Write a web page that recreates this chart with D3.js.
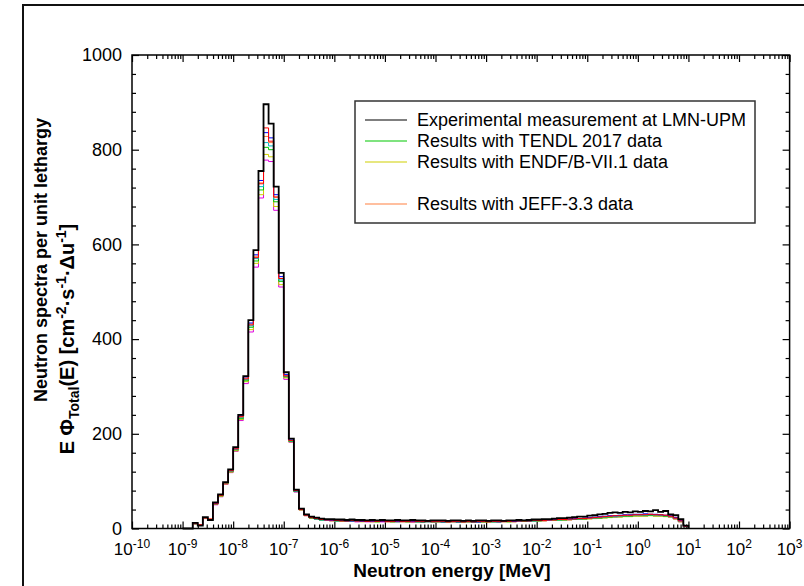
<!DOCTYPE html>
<html>
<head>
<meta charset="utf-8">
<script src="https://cdn.jsdelivr.net/npm/d3@7"></script>
<style>
  body { margin: 0; background: #fff; }
  svg { font-family: "Liberation Sans", Arial, sans-serif; }
  .axis path { display: none; }
  .axis line { stroke: #000; stroke-width: 1.2; }
</style>
</head>
<body>
<script>
// bin edges, as log10(E / MeV)
var binExp = [-9.0,-8.9,-8.8,-8.7,-8.6,-8.5,-8.4,-8.3,-8.2,-8.1,
  -8.0,-7.9,-7.8,-7.7,-7.6,-7.5,-7.4,-7.3,-7.2,-7.1,
  -7.0,-6.9,-6.8,-6.7,-6.6,-6.5,-6.4,-6.3,-6.2,-6.1,
  -6.0,-5.9,-5.8,-5.7,-5.6,-5.5,-5.4,-5.3,-5.2,-5.1,
  -5.0,-4.9,-4.8,-4.7,-4.6,-4.5,-4.4,-4.3,-4.2,-4.1,
  -4.0,-3.9,-3.8,-3.7,-3.6,-3.5,-3.4,-3.3,-3.2,-3.1,
  -3.0,-2.9,-2.8,-2.7,-2.6,-2.5,-2.4,-2.3,-2.2,-2.1,
  -2.0,-1.9,-1.8,-1.7,-1.6,-1.5,-1.4,-1.3,-1.2,-1.1,
  -1.0,-0.9,-0.8,-0.7,-0.6,-0.5,-0.4,-0.3,-0.2,-0.1,
  0.0,0.1,0.2,0.3,0.4,0.5,0.6,0.7,0.8,0.9,1.0];

var experiment = [0,0,12,6,24,18,55,72,98,125,
  172,240,322,440,588,755,896,855,722,540,330,190,82,
  42,30,25,23,21,20,20,19,
  19,18,19,18,18,17,18,17,18,17, 17,18,17,17,18,17,17,16,17,17,
  17,16,17,17,16,17,16,17,17,16, 17,17,16,17,17,18,17,18,19,
  19,20,20,21,22,22,23,24,25,25, 27,28,30,31,33,34,33,35,34,36,
  35,37,36,39,35,37,30,28,20,6];

var simRed = [0,0,10,8,22,20,52,70,96,122,
  168,236,316,430,572,728,846,818,700,528,322,186,80,
  40,28,23,21,19,18,18,17,
  16,16,17,16,16,15,16,15,16,15, 15,16,15,15,16,15,15,15,15,15,
  15,14,15,15,14,15,14,15,15,14, 15,15,15,15,16,16,16,16,17,
  17,17,18,18,19,19,20,20,21,21, 22,23,24,25,26,27,27,28,28,29,
  29,29,30,29,29,28,26,22,16,5];

var simBlue = [0,0,11,7,23,19,53,71,97,123,
  170,238,320,434,578,735,836,825,705,532,325,187,80,
  41,29,24,21,19,18,17,17,
  17,16,16,16,15,16,15,16,15,15, 16,15,15,16,15,15,14,15,15,15,
  14,15,15,14,15,15,14,14,15,15, 15,14,15,16,15,16,17,16,17,
  18,18,18,19,19,20,20,21,21,22, 23,24,25,26,27,27,28,29,29,30,
  30,31,30,30,29,28,27,23,17,5];

var simTendl = [0,0,10,7,22,19,52,69,95,120,
  166,232,312,425,565,715,805,800,690,522,320,184,78,
  40,28,22,20,18,17,17,16,
  16,15,16,15,15,15,15,14,15,15, 14,15,15,14,15,14,14,15,14,14,
  14,14,15,14,14,14,14,14,14,14, 14,14,15,14,15,15,15,16,16,
  16,17,17,17,18,18,19,19,20,20, 21,22,22,23,24,25,25,26,26,27,
  27,27,28,27,27,26,25,21,15,4];

var simEndf = [0,0,10,7,21,18,51,68,94,119,
  164,230,310,420,560,705,790,785,680,515,318,183,78,
  39,27,22,20,18,17,16,16,
  15,15,15,15,14,15,14,14,15,14, 14,14,14,14,14,14,13,14,14,14,
  13,14,14,13,14,14,13,14,13,14, 14,14,14,14,14,15,15,15,16,
  16,16,17,17,17,18,18,19,19,20, 20,21,22,22,23,24,24,25,25,26,
  26,26,27,26,26,25,24,20,14,4];

var simJeff = [0,0,11,8,23,20,53,71,97,122,
  169,236,318,432,575,730,828,815,700,528,323,186,80,
  41,29,23,21,19,18,17,17,
  16,16,16,15,16,15,16,15,15,16, 15,15,16,15,15,15,15,15,15,14,
  15,15,14,15,15,14,15,15,14,15, 15,15,15,15,16,16,16,17,17,
  17,18,18,18,19,19,20,21,21,22, 22,23,24,25,26,27,27,28,28,29,
  29,30,30,29,29,28,26,22,16,5];

var simCyan = [0,0,10,8,22,19,52,70,96,121,
  167,234,315,428,570,722,815,808,695,525,321,185,79,
  40,28,23,20,18,17,17,16,
  16,16,15,16,15,15,15,15,15,15, 15,14,15,15,15,14,15,14,15,14,
  14,15,14,14,15,14,14,14,14,15, 14,15,15,15,15,15,16,16,16,
  17,17,17,18,18,19,19,20,20,21, 21,22,23,24,25,25,26,27,27,28,
  28,28,29,28,28,27,25,21,15,4];

var simMagenta = [0,0,10,7,21,18,50,67,93,118,
  163,228,306,415,552,698,778,775,672,510,315,182,77,
  39,27,22,20,18,17,16,16,
  15,15,15,14,15,14,14,15,14,14, 14,14,14,14,13,14,14,14,13,14,
  14,13,14,14,13,14,14,13,14,14, 14,14,14,15,14,15,15,16,16,
  16,16,17,17,18,18,18,19,19,20, 21,21,22,23,24,24,25,26,26,27,
  27,27,28,27,27,26,24,20,14,4];

var simSeries = [
  {values: simMagenta, color: '#e000e0'},
  {values: simEndf, color: '#d0d000'},
  {values: simTendl, color: '#00c800'},
  {values: simCyan, color: '#00b8c8'},
  {values: simJeff, color: '#ff8040'},
  {values: simBlue, color: '#0000ff'},
  {values: simRed, color: '#ff0000'}
];

var legendItems = [
  {label: 'Experimental measurement at LMN-UPM', color: '#000'},
  {label: 'Results with TENDL 2017 data', color: '#00c800'},
  {label: 'Results with ENDF/B-VII.1 data', color: '#d0d000'},
  {label: '', color: 'none'},
  {label: 'Results with JEFF-3.3 data', color: '#ff8040'}
];

var xDecades = [-10,-9,-8,-7,-6,-5,-4,-3,-2,-1,0,1,2,3];
var yTicks = [0, 200, 400, 600, 800, 1000];

var W = 804, H = 586;
var box = {left: 132, right: 789.6, top: 55, bottom: 528.5};

var svg = d3.select('body').append('svg')
    .attr('width', W)
    .attr('height', H);

// outer frame of the figure
svg.append('rect')
    .attr('x', 23).attr('y', 5)
    .attr('width', 900).attr('height', 700)
    .style('fill', 'none')
    .style('stroke', '#111')
    .style('stroke-width', 2);

var x = d3.scaleLog()
    .domain([1e-10, 1e3])
    .range([box.left, box.right]);

var y = d3.scaleLinear()
    .domain([0, 1000])
    .range([box.bottom, box.top]);

var minorX = [];
xDecades.slice(0, -1).forEach(function(d) {
  [2,3,4,5,6,7,8,9].forEach(function(m) { minorX.push(m * Math.pow(10, d)); });
});
var majorX = xDecades.map(function(d) { return Math.pow(10, d); });
var minorY = d3.range(0, 1001, 40).filter(function(v) { return v % 200 !== 0; });

function addAxis(axis, tr) {
  svg.append('g').attr('class', 'axis')
      .attr('transform', tr)
      .call(axis.tickSizeOuter(0).tickFormat(''));
}

// ticks pointing inward on all four sides
addAxis(d3.axisBottom(x).tickValues(majorX).tickSizeInner(-7), 'translate(0,' + box.bottom + ')');
addAxis(d3.axisBottom(x).tickValues(minorX).tickSizeInner(-4), 'translate(0,' + box.bottom + ')');
addAxis(d3.axisTop(x).tickValues(majorX).tickSizeInner(-7), 'translate(0,' + box.top + ')');
addAxis(d3.axisTop(x).tickValues(minorX).tickSizeInner(-4), 'translate(0,' + box.top + ')');
addAxis(d3.axisLeft(y).tickValues(yTicks).tickSizeInner(-7), 'translate(' + box.left + ',0)');
addAxis(d3.axisLeft(y).tickValues(minorY).tickSizeInner(-4), 'translate(' + box.left + ',0)');
addAxis(d3.axisRight(y).tickValues(yTicks).tickSizeInner(-7), 'translate(' + box.right + ',0)');
addAxis(d3.axisRight(y).tickValues(minorY).tickSizeInner(-4), 'translate(' + box.right + ',0)');

// histogram steps
function stepPoints(vals) {
  var pts = vals.map(function(v, i) { return [Math.pow(10, binExp[i]), v]; });
  pts.push([Math.pow(10, binExp[binExp.length - 1]), 0]);
  pts.unshift([Math.pow(10, binExp[0]), 0]);
  return pts;
}

var line = d3.line()
    .x(function(d) { return x(d[0]); })
    .y(function(d) { return y(d[1]); })
    .curve(d3.curveStepAfter);

var plot = svg.append('g');

simSeries.forEach(function(s) {
  plot.append('path')
      .attr('d', line(stepPoints(s.values)))
      .style('fill', 'none')
      .style('stroke', s.color)
      .style('stroke-width', 1);
});

plot.append('path')
    .attr('d', line(stepPoints(experiment)))
    .style('fill', 'none')
    .style('stroke', '#000')
    .style('stroke-width', 1.8);

// frame of plot area
svg.append('rect')
    .attr('x', box.left).attr('y', box.top)
    .attr('width', box.right - box.left).attr('height', box.bottom - box.top)
    .style('fill', 'none')
    .style('stroke', '#000')
    .style('stroke-width', 1.5);

// tick labels
svg.append('g').selectAll('text')
    .data(yTicks)
    .enter().append('text')
    .attr('x', box.left - 10)
    .attr('y', function(d) { return y(d); })
    .attr('dy', '0.35em')
    .attr('text-anchor', 'end')
    .style('font-size', '18px')
    .text(function(d) { return d; });

var xl = svg.append('g').selectAll('text')
    .data(xDecades)
    .enter().append('text')
    .attr('x', function(d) { return x(Math.pow(10, d)); })
    .attr('y', 555)
    .attr('text-anchor', 'middle')
    .style('font-size', '17px');
xl.append('tspan').text('10');
xl.append('tspan')
    .attr('dy', -7)
    .style('font-size', '12px')
    .text(function(d) { return d; });

// axis titles
svg.append('text')
    .attr('x', 452).attr('y', 577)
    .attr('text-anchor', 'middle')
    .style('font-size', '19px')
    .style('font-weight', 'bold')
    .text('Neutron energy [MeV]');

svg.append('text')
    .attr('transform', 'translate(47,260) rotate(-90)')
    .attr('text-anchor', 'middle')
    .style('font-size', '18px')
    .style('font-weight', 'bold')
    .text('Neutron spectra per unit lethargy');

var yl2 = svg.append('text')
    .attr('transform', 'translate(74,339) rotate(-90)')
    .attr('text-anchor', 'middle')
    .style('font-size', '20px')
    .style('font-weight', 'bold');
yl2.append('tspan').text('E \u03A6');
yl2.append('tspan').attr('dy', 5).style('font-size', '14px').text('Total');
yl2.append('tspan').attr('dy', -5).text('(E) [cm');
yl2.append('tspan').attr('dy', -8).style('font-size', '14px').text('-2');
yl2.append('tspan').attr('dy', 8).text('\u00B7s');
yl2.append('tspan').attr('dy', -8).style('font-size', '14px').text('-1');
yl2.append('tspan').attr('dy', 8).text('\u00B7\u0394u');
yl2.append('tspan').attr('dy', -8).style('font-size', '14px').text('-1');
yl2.append('tspan').attr('dy', 8).text(']');

// legend
var lg = svg.append('g');
lg.append('rect')
    .attr('x', 355).attr('y', 101)
    .attr('width', 400).attr('height', 122)
    .style('fill', '#fff')
    .style('stroke', '#333')
    .style('stroke-width', 1.5);

var li = lg.selectAll('g.item')
    .data(legendItems)
    .enter().append('g')
    .attr('class', 'item')
    .attr('transform', function(d, i) { return 'translate(0,' + (120 + i * 21) + ')'; });
li.append('line')
    .attr('x1', 365).attr('x2', 407)
    .style('stroke', function(d) { return d.color; })
    .style('stroke-width', 1.2);
li.append('text')
    .attr('x', 417)
    .attr('dy', '0.35em')
    .style('font-size', '18px')
    .text(function(d) { return d.label; });
</script>
</body>
</html>
